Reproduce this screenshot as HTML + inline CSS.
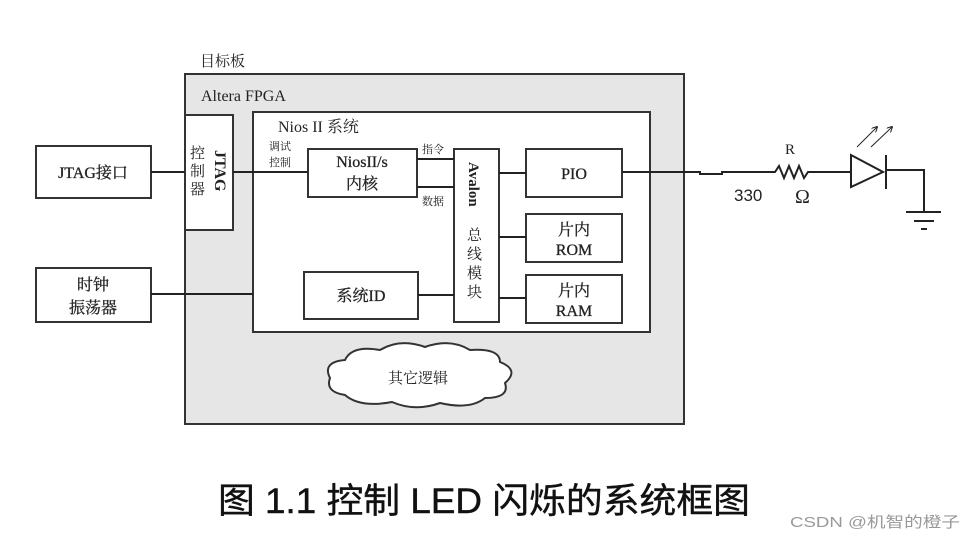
<!DOCTYPE html>
<html><head><meta charset="utf-8"><style>
body{margin:0;background:#fff;}
svg text{font-family:"Liberation Serif","Noto Serif CJK SC",serif;fill:#222;}
</style></head><body>
<svg width="974" height="539" viewBox="0 0 974 539" xmlns="http://www.w3.org/2000/svg">
<defs><marker id="a" markerWidth="6" markerHeight="6" refX="5" refY="3" orient="auto"><path d="M0,0 L6,3 L0,6" fill="none" stroke="#222" stroke-width="1"/></marker></defs>
<g stroke="#333" stroke-width="2" fill="#fff">
<rect x="185" y="74" width="499" height="350" fill="#e6e6e6"/>
<rect x="185" y="115" width="48" height="115"/>
<rect x="253" y="112" width="397" height="220"/>
<rect x="308" y="149" width="109" height="48"/>
<rect x="454" y="149" width="45" height="173"/>
<rect x="526" y="149" width="96" height="48"/>
<rect x="526" y="214" width="96" height="48"/>
<rect x="526" y="275" width="96" height="48"/>
<rect x="304" y="272" width="114" height="47"/>
<rect x="36" y="146" width="115" height="52"/>
<rect x="36" y="268" width="115" height="54"/>
<path d="M345 395 Q325 392 330 378 Q322 362 345 360 Q352 345 380 350 Q400 338 425 347 Q450 338 470 350 Q500 348 500 362 Q520 370 505 383 Q510 398 485 398 Q470 410 440 403 Q415 412 392 402 Q360 408 345 395Z"/>
</g>
<g stroke="#222" stroke-width="2" fill="none">
<line x1="151" y1="172" x2="185" y2="172"/>
<line x1="233" y1="172" x2="308" y2="172"/>
<line x1="151" y1="294" x2="253" y2="294"/>
<line x1="417" y1="159" x2="454" y2="159"/>
<line x1="417" y1="187" x2="454" y2="187"/>
<line x1="499" y1="173" x2="526" y2="173"/>
<line x1="499" y1="237" x2="526" y2="237"/>
<line x1="499" y1="298" x2="526" y2="298"/>
<line x1="418" y1="295" x2="454" y2="295"/>
<polyline points="622,172 700,172 700,174 722,174 722,172 775,172 779,166 784,178 789,166 794,178 799,166 804,178 808,172 851,172"/>
<polygon points="851,155 851,187 883,172"/>
<line x1="886" y1="155" x2="886" y2="189"/>
<polyline points="886,170 924,170 924,211"/>
<line x1="906" y1="212" x2="941" y2="212"/>
<line x1="914" y1="221" x2="934" y2="221"/>
<line x1="921" y1="229" x2="927" y2="229"/>
<line x1="857" y1="147" x2="877" y2="127" stroke-width="1" marker-end="url(#a)"/>
<line x1="871" y1="147" x2="892" y2="127" stroke-width="1" marker-end="url(#a)"/>
</g>
<text x="200" y="66" font-size="15">目标板</text>
<text x="201" y="101" font-size="16">Altera FPGA</text>
<text x="278" y="132" font-size="16">Nios II 系统</text>
<text x="269" y="150" font-size="11">调试</text>
<text x="269" y="166" font-size="11">控制</text>
<text x="422" y="153" font-size="11">指令</text>
<text x="422" y="205" font-size="11">数据</text>
<g stroke="#222" stroke-width="0.3">
<text x="362" y="167" font-size="16" text-anchor="middle">NiosII/s</text>
<text x="362" y="189" font-size="16" text-anchor="middle">内核</text>
<text x="574" y="179" font-size="16" text-anchor="middle">PIO</text>
<text x="574" y="235" font-size="16" text-anchor="middle">片内</text>
<text x="574" y="255" font-size="16" text-anchor="middle">ROM</text>
<text x="574" y="296" font-size="16" text-anchor="middle">片内</text>
<text x="574" y="316" font-size="16" text-anchor="middle">RAM</text>
<text x="361" y="301" font-size="16" text-anchor="middle">系统ID</text>
<text x="93" y="178" font-size="16" text-anchor="middle">JTAG接口</text>
<text x="93" y="290" font-size="16" text-anchor="middle">时钟</text>
<text x="93" y="313" font-size="16" text-anchor="middle">振荡器</text>
</g>
<text x="418" y="383" font-size="15" text-anchor="middle">其它逻辑</text>
<text transform="translate(215,150) rotate(90)" font-size="16" font-weight="bold">JTAG</text>
<text x="190" y="158" font-size="15">控</text>
<text x="190" y="176" font-size="15">制</text>
<text x="190" y="194" font-size="15">器</text>
<text transform="translate(469,162) rotate(90)" font-size="15" font-weight="bold">Avalon</text>
<text x="467" y="240" font-size="15">总</text>
<text x="467" y="259" font-size="15">线</text>
<text x="467" y="278" font-size="15">模</text>
<text x="467" y="297" font-size="15">块</text>
<text x="785" y="154" font-size="15">R</text>
<text x="734" y="201" font-size="17" style="font-family:'Liberation Sans',sans-serif">330</text>
<text x="795" y="203" font-size="20">Ω</text>
<text x="218" y="513" font-size="35" textLength="532" lengthAdjust="spacingAndGlyphs" stroke="#111" stroke-width="0.4" style="font-family:'Liberation Sans','Noto Sans CJK SC',sans-serif;fill:#111">图 1.1  控制 LED 闪烁的系统框图</text>
<text x="790" y="527" font-size="15" textLength="170" lengthAdjust="spacingAndGlyphs" style="font-family:'Liberation Sans','Noto Sans CJK SC',sans-serif;fill:#999">CSDN @机智的橙子</text>
</svg>
</body></html>
